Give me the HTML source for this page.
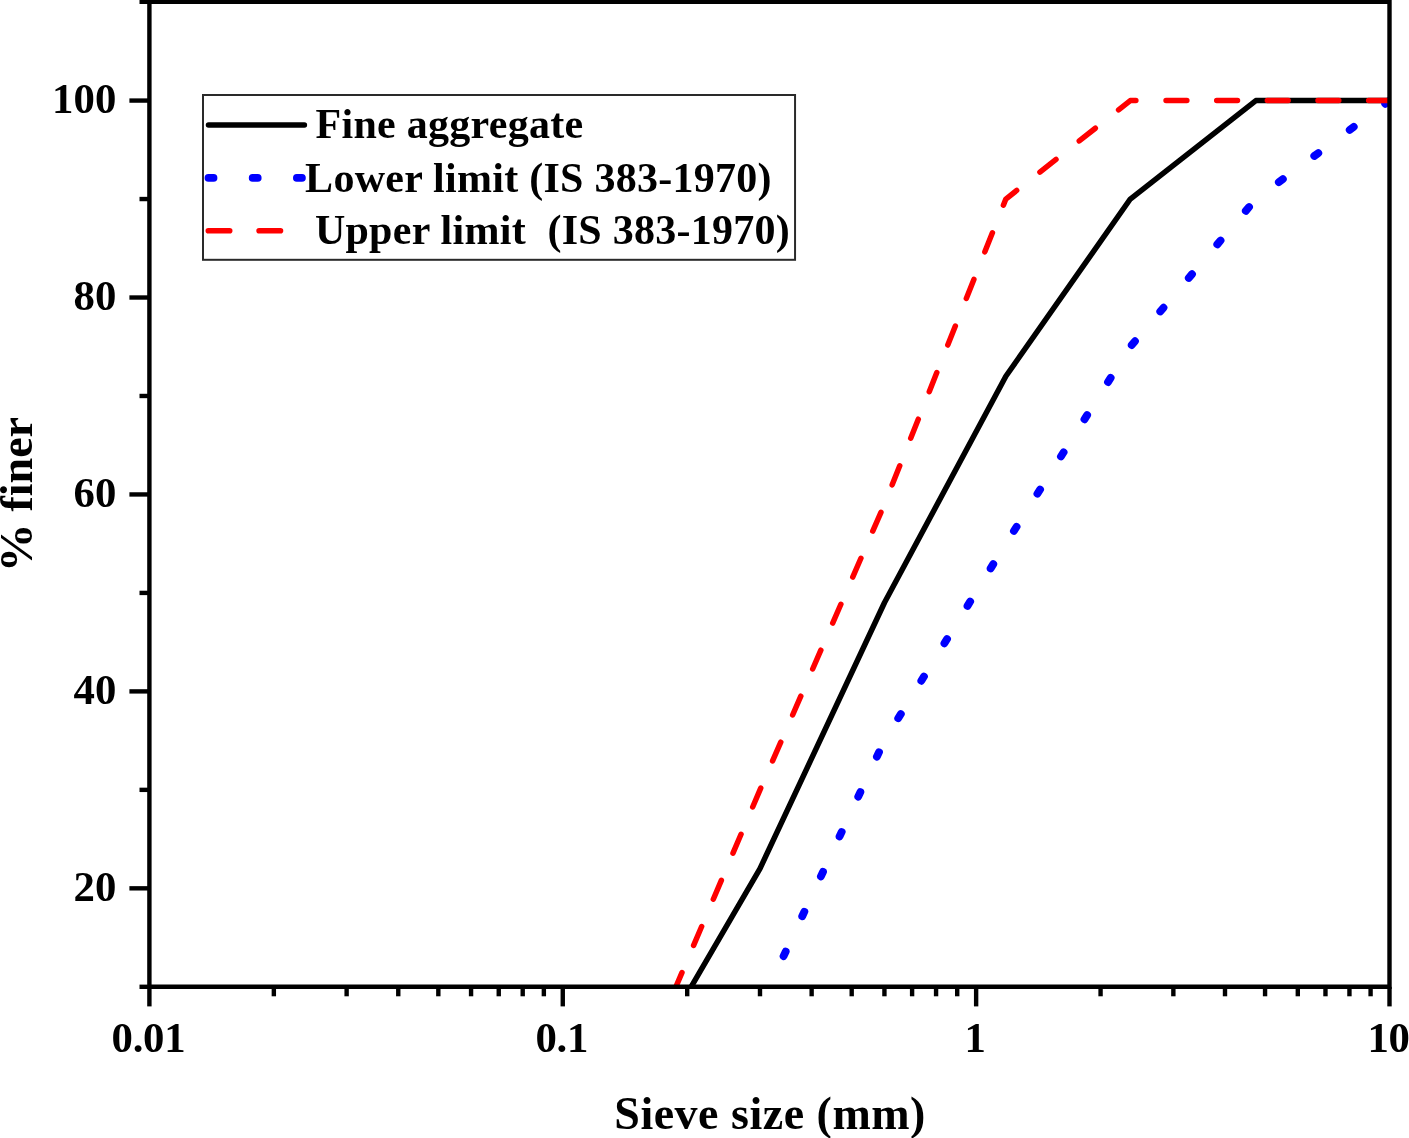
<!DOCTYPE html>
<html><head><meta charset="utf-8"><title>Sieve analysis</title>
<style>html,body{margin:0;padding:0;background:#fff;overflow:hidden}svg{display:block;will-change:transform}text{font-family:"Liberation Serif","Times New Roman",serif;font-weight:bold;fill:#000}</style></head><body>
<svg width="1409" height="1138" viewBox="0 0 1409 1138">
<rect width="1409" height="1138" fill="#fff"/>
<defs><clipPath id="c"><rect x="149.40" y="2.10" width="1240.10" height="984.70"/></clipPath></defs>
<g clip-path="url(#c)" fill="none" stroke-linejoin="round">
<polyline points="635.56,1082.32 759.99,868.64 884.43,602.77 1005.85,376.29 1130.28,199.04 1255.86,100.57 1389.50,100.57" stroke="#000" stroke-width="5.5"/>
<polyline points="759.99,1006.49 884.43,740.62 1005.85,543.68 1130.28,346.75 1255.86,199.04 1389.50,100.57" stroke="#0000ff" stroke-width="7.8" stroke-linecap="round" stroke-dasharray="5.0 39.03" stroke-dashoffset="-11.6"/>
<defs><clipPath id="c2"><rect x="149.40" y="2.10" width="1002.60" height="984.70"/></clipPath></defs>
<g clip-path="url(#c2)"><polyline points="635.56,1081.33 759.99,789.86 884.43,504.30 1005.85,199.04 1130.28,100.57 1255.86,100.57 1389.50,100.57" stroke="#ff0000" stroke-width="5.5" stroke-linecap="round" stroke-dasharray="20.5 29.65" stroke-dashoffset="2.6"/></g>
<line x1="1166.05" y1="100.57" x2="1399.50" y2="100.57" stroke="#ff0000" stroke-width="5.5" stroke-linecap="round" stroke-dasharray="20.8 29.85"/>
</g>
<g stroke="#000" stroke-width="4.4" fill="none">
<path d="M149.40,-0.50 V986.80 H1389.50 V1.70 H139.50" stroke-linejoin="miter"/>
<line x1="139.50" y1="986.80" x2="149.40" y2="986.80"/>
<line x1="129.40" y1="888.33" x2="149.40" y2="888.33"/>
<line x1="139.50" y1="789.86" x2="149.40" y2="789.86"/>
<line x1="129.40" y1="691.39" x2="149.40" y2="691.39"/>
<line x1="139.50" y1="592.92" x2="149.40" y2="592.92"/>
<line x1="129.40" y1="494.45" x2="149.40" y2="494.45"/>
<line x1="139.50" y1="395.98" x2="149.40" y2="395.98"/>
<line x1="129.40" y1="297.51" x2="149.40" y2="297.51"/>
<line x1="139.50" y1="199.04" x2="149.40" y2="199.04"/>
<line x1="129.40" y1="100.57" x2="149.40" y2="100.57"/>
<line x1="149.40" y1="986.80" x2="149.40" y2="1006.40"/>
<line x1="273.84" y1="986.80" x2="273.84" y2="996.30"/>
<line x1="346.63" y1="986.80" x2="346.63" y2="996.30"/>
<line x1="398.27" y1="986.80" x2="398.27" y2="996.30"/>
<line x1="438.33" y1="986.80" x2="438.33" y2="996.30"/>
<line x1="471.06" y1="986.80" x2="471.06" y2="996.30"/>
<line x1="498.74" y1="986.80" x2="498.74" y2="996.30"/>
<line x1="522.71" y1="986.80" x2="522.71" y2="996.30"/>
<line x1="543.85" y1="986.80" x2="543.85" y2="996.30"/>
<line x1="562.77" y1="986.80" x2="562.77" y2="1006.40"/>
<line x1="687.20" y1="986.80" x2="687.20" y2="996.30"/>
<line x1="759.99" y1="986.80" x2="759.99" y2="996.30"/>
<line x1="811.64" y1="986.80" x2="811.64" y2="996.30"/>
<line x1="851.70" y1="986.80" x2="851.70" y2="996.30"/>
<line x1="884.43" y1="986.80" x2="884.43" y2="996.30"/>
<line x1="912.10" y1="986.80" x2="912.10" y2="996.30"/>
<line x1="936.07" y1="986.80" x2="936.07" y2="996.30"/>
<line x1="957.22" y1="986.80" x2="957.22" y2="996.30"/>
<line x1="976.13" y1="986.80" x2="976.13" y2="1006.40"/>
<line x1="1100.57" y1="986.80" x2="1100.57" y2="996.30"/>
<line x1="1173.36" y1="986.80" x2="1173.36" y2="996.30"/>
<line x1="1225.00" y1="986.80" x2="1225.00" y2="996.30"/>
<line x1="1265.06" y1="986.80" x2="1265.06" y2="996.30"/>
<line x1="1297.80" y1="986.80" x2="1297.80" y2="996.30"/>
<line x1="1325.47" y1="986.80" x2="1325.47" y2="996.30"/>
<line x1="1349.44" y1="986.80" x2="1349.44" y2="996.30"/>
<line x1="1370.59" y1="986.80" x2="1370.59" y2="996.30"/>
<line x1="1389.50" y1="986.80" x2="1389.50" y2="1006.40"/>
</g>
<g font-size="42.8" letter-spacing="0.1">
<text x="116.5" y="901.0" text-anchor="end">20</text>
<text x="116.5" y="704.1" text-anchor="end">40</text>
<text x="116.5" y="507.1" text-anchor="end">60</text>
<text x="116.5" y="310.2" text-anchor="end">80</text>
<text x="116.5" y="113.3" text-anchor="end">100</text>
<text x="148.4" y="1052.1" letter-spacing="-0.3" text-anchor="middle">0.01</text>
<text x="561.8" y="1052.1" letter-spacing="-0.3" text-anchor="middle">0.1</text>
<text x="975.1" y="1052.1" letter-spacing="-0.3" text-anchor="middle">1</text>
<text x="1388.5" y="1052.1" letter-spacing="-0.3" text-anchor="middle">10</text>
</g>
<text x="770.1" y="1128.7" font-size="46" letter-spacing="0.5" text-anchor="middle">Sieve size (mm)</text>
<text transform="translate(32,0) rotate(-90)" font-size="46"><tspan x="-572.2" textLength="48.76" lengthAdjust="spacingAndGlyphs">%</tspan> <tspan x="-511.5">finer</tspan></text>
<rect x="203" y="95" width="592.05" height="164.8" fill="#fff" stroke="#2a2a2a" stroke-width="2"/>
<g fill="none" stroke-linecap="round">
<line x1="208.5" y1="124.9" x2="304.4" y2="124.9" stroke="#000" stroke-width="5.5"/>
<line x1="208.4" y1="177.9" x2="304" y2="177.9" stroke="#0000ff" stroke-width="7.6" stroke-dasharray="5.2 39.0"/>
<line x1="208.3" y1="230.7" x2="300" y2="230.7" stroke="#ff0000" stroke-width="5.6" stroke-dasharray="21.4 29.4"/>
</g>
<g font-size="42">
<text x="315.5" y="138.4" letter-spacing="0.28">Fine aggregate</text>
<text x="305.1" y="191.6" letter-spacing="0.27">Lower limit (IS 383-1970)</text>
<text x="314.9" y="244.4" letter-spacing="0.268" xml:space="preserve">Upper limit  (IS 383-1970)</text>
</g>
</svg></body></html>
